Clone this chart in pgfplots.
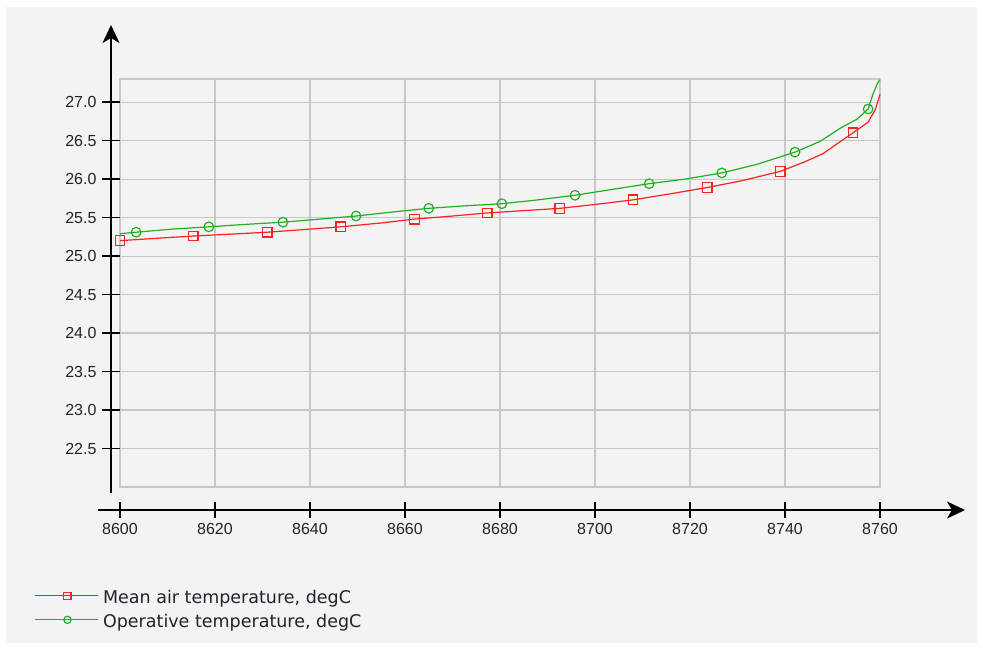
\documentclass[border=0pt]{standalone}
\usepackage{pgfplots}
\pgfplotsset{compat=1.18}
\usepackage{fontspec}
\setmainfont{Liberation Sans}
\newfontfamily\legfont{DejaVu Sans}
\usetikzlibrary{arrows.meta}
\definecolor{bg}{HTML}{F3F3F3}
\definecolor{gridc}{HTML}{C8C8C8}
\definecolor{txt}{HTML}{22222E}
\definecolor{redc}{HTML}{FF2020}
\definecolor{greenc}{HTML}{20B020}
\pgfplotstableread{
x y
8600 25.20
8610 25.24
8615.4 25.26
8625 25.29
8631 25.31
8640 25.35
8646.5 25.38
8655 25.43
8662 25.48
8670 25.52
8677.3 25.56
8685 25.59
8692.6 25.62
8700 25.67
8708 25.73
8716 25.81
8723.6 25.89
8731 25.98
8739 26.10
8744 26.22
8748 26.33
8751 26.46
8754.3 26.60
8757.5 26.74
8759 26.90
8760 27.10
}\meanair
\pgfplotstableread{
x y
8600 25.29
8603.4 25.31
8611 25.35
8618.7 25.38
8626 25.41
8634.3 25.44
8642 25.48
8649.7 25.52
8657 25.57
8665 25.62
8672 25.65
8680.4 25.68
8688 25.73
8695.8 25.79
8703 25.86
8711.4 25.94
8719 26.00
8726.7 26.08
8734 26.19
8742.1 26.35
8747.4 26.49
8751.6 26.66
8755.2 26.78
8757.5 26.91
8758.5 27.10
8759.5 27.25
8760 27.29
}\operative
\begin{document}
\fontsize{16pt}{19pt}\selectfont
\begin{tikzpicture}
\fill[white] (0pt,0pt) rectangle (983pt,649pt);
\fill[bg] (6pt,6pt) rectangle (977pt,642pt);
\begin{axis}[
  at={(120pt,162pt)}, anchor=south west,
  scale only axis, width=760pt, height=408pt,
  xmin=8600, xmax=8760, ymin=22, ymax=27.3,
  xtick={8600,8620,...,8760},
  ytick={22.5,23,...,27},
  yticklabel style={/pgf/number format/fixed, /pgf/number format/fixed zerofill, /pgf/number format/precision=1},
  xticklabel style={/pgf/number format/fixed, /pgf/number format/set thousands separator={}},
  /pgf/number format/assume math mode=true,
  major tick length=0pt,
  grid=major,
  major grid style={gridc, line width=1.1pt},
  axis line style={gridc, line width=1.6pt},
  xticklabel style={anchor=center, yshift=-42pt, text=txt, font=\fontsize{16pt}{19pt}\selectfont},
  yticklabel style={anchor=east, xshift=-18pt, text=txt, font=\fontsize{16pt}{19pt}\selectfont},
  clip=false,
  legend style={at={(axis description cs:-0.112,-0.257)}, anchor=north west, draw=none, fill=none,
    inner sep=0pt, outer sep=0pt, row sep=8pt,
    nodes={inner sep=0pt, outer sep=0pt, text height=12pt, text depth=4pt, text=txt,
      font=\legfont\fontsize{17.5pt}{20pt}\selectfont},
    /tikz/every odd column/.append style={column sep=4pt}},
  legend cell align=left,
  legend image code/.code={
    \draw[#1, mark=none, line width=1.2pt] (0pt,4pt) -- (63pt,4pt);
    \draw[#1, mark indices={1}, mark size=3.6pt, mark options={solid, line width=1.2pt}] plot coordinates {(32pt,4pt)};
  },
]
\addplot[redc, line width=1.2pt, mark=square, mark size=4.8pt,
  mark options={solid, line width=1.2pt},
  mark indices={1,3,5,7,9,11,13,15,17,19,23}] table[x=x,y=y] {\meanair};
\addlegendentry{Mean air temperature, degC}
\addplot[greenc, line width=1.2pt, mark=o, mark size=4.8pt,
  mark options={solid, line width=1.2pt},
  mark indices={2,4,6,8,10,12,14,16,18,20,24}] table[x=x,y=y] {\operative};
\addlegendentry{Operative temperature, degC}
% arrowed axes and tick marks
\draw[black, line width=1.5pt, -{Stealth[length=18pt,width=17pt,inset=5pt]}]
  ([xshift=-9pt,yshift=-6pt]axis cs:8600,22) -- ([xshift=-9pt,yshift=54pt]axis cs:8600,27.3);
\draw[black, line width=1.5pt, -{Stealth[length=18pt,width=17pt,inset=5pt]}]
  ([xshift=-22pt,yshift=-23pt]axis cs:8600,22) -- ([xshift=85pt,yshift=-23pt]axis cs:8760,22);
\pgfplotsinvokeforeach{8600,8620,...,8760}{
  \draw[black, line width=1.5pt] ([yshift=-15pt]axis cs:#1,22) -- ([yshift=-31pt]axis cs:#1,22);
}
\pgfplotsinvokeforeach{22.5,23,...,27}{
  \draw[black, line width=1.5pt] ([xshift=-18pt]axis cs:8600,#1) -- (axis cs:8600,#1);
}
\end{axis}
\end{tikzpicture}
\end{document}
